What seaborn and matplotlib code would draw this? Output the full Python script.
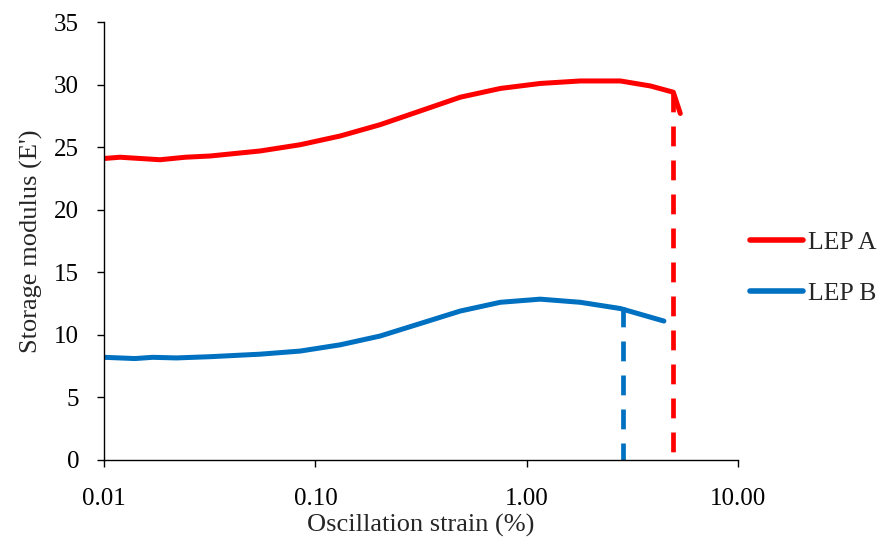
import numpy as np
import pandas as pd
import matplotlib
matplotlib.use("Agg")
import matplotlib.pyplot as plt
import seaborn as sns
from matplotlib.ticker import FixedLocator, FixedFormatter, NullLocator

# Data
strain_a = [0.0100, 0.0119, 0.0184, 0.0242, 0.0318, 0.0547, 0.0847, 0.131, 0.202,
            0.313, 0.484, 0.749, 1.157, 1.79, 2.77, 3.84, 4.93, 5.32]
modulus_a = [24.1, 24.2, 24.0, 24.2, 24.3, 24.7, 25.2, 25.9, 26.8,
             27.9, 29.0, 29.7, 30.1, 30.3, 30.3, 29.9, 29.4, 27.7]
strain_b = [0.0100, 0.0140, 0.0170, 0.0220, 0.0318, 0.0547, 0.0847, 0.131, 0.202,
            0.313, 0.484, 0.749, 1.157, 1.79, 2.77, 4.45]
modulus_b = [8.2, 8.1, 8.2, 8.15, 8.25, 8.45, 8.7, 9.2, 9.9,
             10.9, 11.9, 12.6, 12.85, 12.6, 12.1, 11.1]
limit_a_x = [4.93, 4.93]
limit_a_y = [29.4, 0]
limit_b_x = [2.86, 2.86]
limit_b_y = [12.2, 0]
series_names = ["LEP A", "LEP B"]
colors = ["#FF0000", "#0070C0"]
xticks = [0.01, 0.1, 1, 10]
xtick_labels = ["0.01", "0.10", "1.00", "10.00"]
yticks = [0, 5, 10, 15, 20, 25, 30, 35]

df = pd.DataFrame({
    "strain": strain_a + strain_b,
    "modulus": modulus_a + modulus_b,
    "series": [series_names[0]] * len(strain_a) + [series_names[1]] * len(strain_b),
})

sns.set_style("white")
plt.rcParams["font.family"] = ["Liberation Serif", "DejaVu Serif"]

fig = plt.figure(figsize=(8.82, 5.41), dpi=100)
ax = fig.add_axes([0.118, 0.150, 0.719, 0.809])

sns.lineplot(data=df, x="strain", y="modulus", hue="series", palette=colors,
             sort=False, estimator=None, linewidth=3.6, ax=ax,
             solid_capstyle="round", solid_joinstyle="round")

ax.plot(limit_a_x, limit_a_y, color=colors[0], linewidth=3.4, dashes=(4.2, 3.0),
        dash_capstyle="butt")
ax.plot(limit_b_x, limit_b_y, color=colors[1], linewidth=3.4, dashes=(4.2, 3.0),
        dash_capstyle="butt")

ax.set_xscale("log")
ax.set_xlim(0.01, 10)
ax.set_ylim(0, 35)
ax.xaxis.set_major_locator(FixedLocator(xticks))
ax.xaxis.set_major_formatter(FixedFormatter(xtick_labels))
ax.xaxis.set_minor_locator(NullLocator())
ax.set_yticks(yticks)

for s in ["top", "right"]:
    ax.spines[s].set_visible(False)
for s in ["left", "bottom"]:
    ax.spines[s].set_color("#000000")
    ax.spines[s].set_linewidth(1.0)

ax.tick_params(axis="both", which="major", direction="out", length=5, width=1.0,
               color="#000000", labelsize=18, labelcolor="#000000",
               bottom=True, left=True)
ax.tick_params(axis="x", pad=15)
ax.tick_params(axis="y", pad=13)

ax.set_xlabel("Oscillation strain (%)", fontsize=19, labelpad=3)
ax.set_ylabel("Storage modulus (E')", fontsize=19, labelpad=8)

handles, labels = ax.get_legend_handles_labels()
leg = ax.legend(handles[:2], labels[:2], loc="center left",
                bbox_to_anchor=(1.019, 0.438), frameon=False, fontsize=18.5,
                handlelength=2.06, handletextpad=0.2, labelspacing=1.1,
                borderaxespad=0, borderpad=0)
for line in leg.get_lines():
    line.set_linewidth(4.0)

fig.savefig("out.png", dpi=100)
